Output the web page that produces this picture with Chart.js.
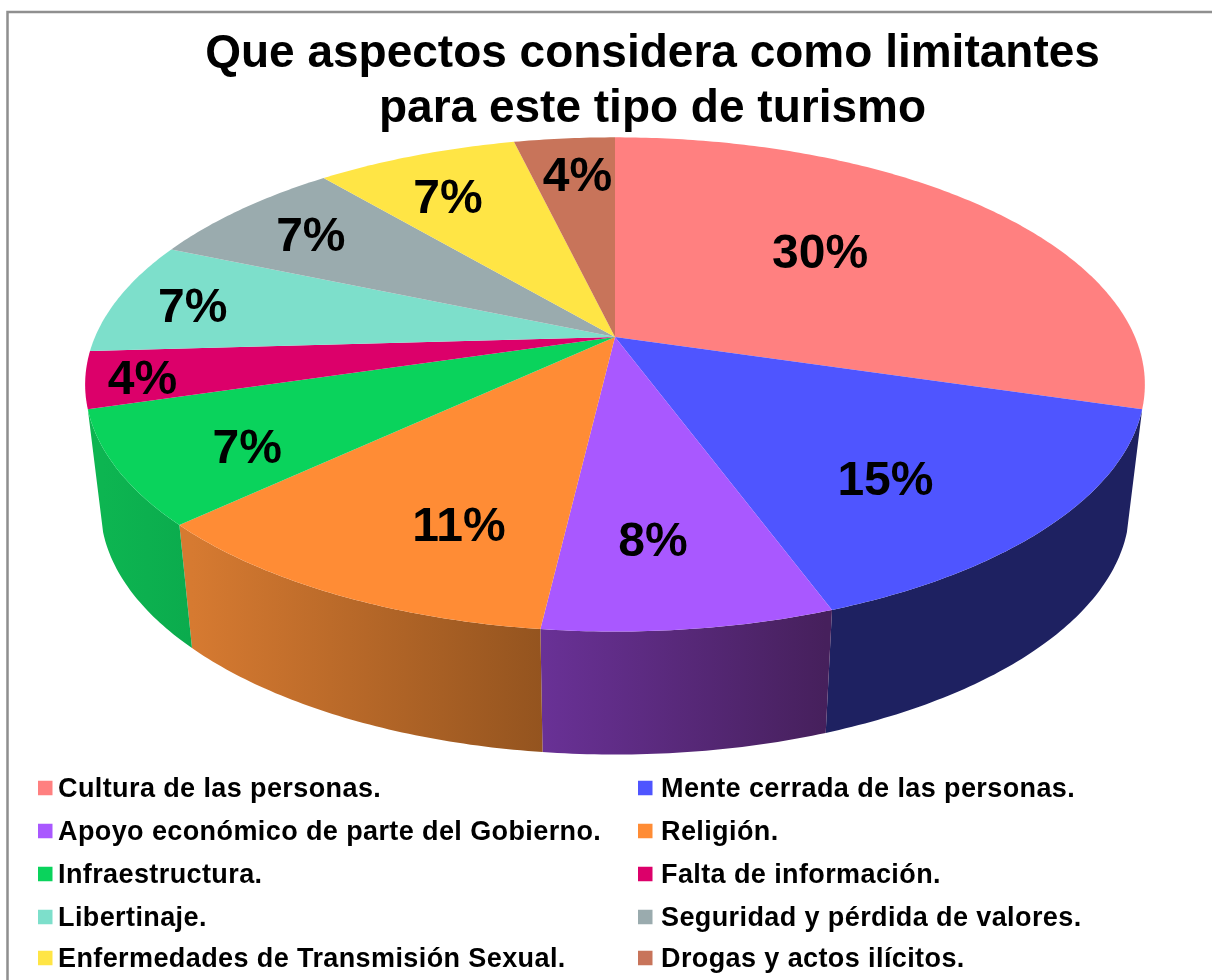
<!DOCTYPE html>
<html lang="es">
<head>
<meta charset="utf-8">
<title>Que aspectos considera como limitantes</title>
<script src="https://cdn.jsdelivr.net/npm/chart.js@4/dist/chart.umd.js"></script>
<style>
html,body{margin:0;padding:0;background:#fff}
canvas{display:block;filter:blur(0.4px)}
</style>
</head>
<body>
<canvas id="c" width="1212" height="980"></canvas>
<script>
const titleLines = ['Que aspectos considera como limitantes', 'para este tipo de turismo'];
const categories = ['Cultura de las personas.', 'Mente cerrada de las personas.', 'Apoyo económico de parte del Gobierno.', 'Religión.', 'Infraestructura.', 'Falta de información.', 'Libertinaje.', 'Seguridad y pérdida de valores.', 'Enfermedades de Transmisión Sexual.', 'Drogas y actos ilícitos.'];
const shares = [29.6, 14.8, 7.4, 11.1, 7.4, 3.7, 7.4, 7.4, 7.4, 3.7];
const percentLabels = ['30%', '15%', '8%', '11%', '7%', '4%', '7%', '7%', '7%', '4%'];
const topColors = ['#ff8080', '#4f55ff', '#a958ff', '#ff8c35', '#0ad35c', '#dc006a', '#7ddfcb', '#9aabae', '#ffe545', '#c8745a'];
const wallColors = [null, ['#1e2161', '#1e2161'], ['#693196', '#46205c'], ['#d67a31', '#94541f'], ['#0db551', '#0bab4d'], null, null, null, null, null];

// Perspective view of the pie disc
const view = {cx: 615, cy: 337, rx: 520, ry: 238, k: 0.192, depth: 123, bottomScale: 0.971};
function ringPoint(a, r, lower) {
  const u = r * Math.sin(a), v = -r * Math.cos(a), w = 1 - view.k * v;
  let x = view.rx * u / w, y = view.cy + view.ry * v / w;
  if (lower) { x *= view.bottomScale; y += view.depth; }
  return [view.cx + x, y];
}
function traceRing(ctx, a0, a1, lower, move) {
  const n = Math.max(2, Math.ceil(Math.abs(a1 - a0) / 0.012));
  for (let i = 0; i <= n; i++) {
    const p = ringPoint(a0 + (a1 - a0) * i / n, 1, lower);
    if (i === 0 && move) ctx.moveTo(p[0], p[1]); else ctx.lineTo(p[0], p[1]);
  }
}
const OFFSET = Math.PI / 2;

// Slices are Chart.js arc elements, painted through the perspective view
Chart.ArcElement.prototype.draw = function (ctx) {
  const a0 = this.startAngle + OFFSET, a1 = this.endAngle + OFFSET;
  ctx.save();
  ctx.beginPath();
  ctx.moveTo(view.cx, view.cy);
  traceRing(ctx, a0, a1, false, false);
  ctx.closePath();
  ctx.fillStyle = this.options.backgroundColor;
  ctx.fill();
  ctx.restore();
};

const labelNudges = [[-29,-2],[24,38],[-3,46],[0,49],[-81,37],[-159,18],[-121,-4],[-70,-19],[-40,-22],[-5,-32]];
const legendLayout = {cols: [38, 638], textX: [58, 661], rows: [788, 831, 874, 917, 958], box: 14.5, font: 'bold 27px "Liberation Sans", Arial, sans-serif', spacing: '0.4px'};

const pie3d = {
  id: 'pie3d',
  beforeDraw(chart) {
    const ctx = chart.ctx;
    ctx.save();
    ctx.fillStyle = '#fff';
    ctx.fillRect(0, 0, chart.width, chart.height);
    ctx.strokeStyle = '#8f8f8f';
    ctx.lineWidth = 2.5;
    ctx.beginPath();
    ctx.moveTo(7.5, chart.height);
    ctx.lineTo(7.5, 12);
    ctx.lineTo(chart.width, 12);
    ctx.stroke();
    ctx.restore();
  },
  beforeDatasetsDraw(chart) {
    const ctx = chart.ctx, arcs = chart.getDatasetMeta(0).data;
    arcs.forEach((arc, i) => {
      const c = wallColors[i];
      if (!c) return;
      const a0 = arc.startAngle + OFFSET, a1 = arc.endAngle + OFFSET;
      const pa = ringPoint(a0, 1, true), pb = ringPoint(a1, 1, true);
      const g = ctx.createLinearGradient(Math.min(pa[0], pb[0]), 0, Math.max(pa[0], pb[0]), 0);
      g.addColorStop(0, c[0]); g.addColorStop(1, c[1]);
      ctx.save();
      ctx.beginPath();
      traceRing(ctx, a0, a1, false, true);
      traceRing(ctx, a1, a0, true, false);
      ctx.closePath();
      ctx.fillStyle = g;
      ctx.fill();
      ctx.restore();
    });
  },
  afterDatasetsDraw(chart) {
    const ctx = chart.ctx, arcs = chart.getDatasetMeta(0).data;
    ctx.save();
    ctx.fillStyle = '#000';
    ctx.font = 'bold 48px "Liberation Sans", Arial, sans-serif';
    ctx.textAlign = 'center';
    ctx.textBaseline = 'middle';
    arcs.forEach((arc, i) => {
      const mid = (arc.startAngle + arc.endAngle) / 2 + OFFSET;
      const p = ringPoint(mid, 0.6, false);
      ctx.fillText(percentLabels[i], p[0] + labelNudges[i][0], p[1] + labelNudges[i][1]);
    });
    ctx.restore();
  },
  afterDraw(chart) {
    const ctx = chart.ctx, L = legendLayout;
    ctx.save();
    ctx.font = L.font;
    ctx.letterSpacing = L.spacing;
    ctx.textBaseline = 'middle';
    categories.forEach((name, i) => {
      const col = i % 2, y = L.rows[Math.floor(i / 2)];
      ctx.fillStyle = topColors[i];
      ctx.fillRect(L.cols[col], y - L.box / 2, L.box, L.box);
      ctx.fillStyle = '#000';
      ctx.fillText(name, L.textX[col], y + 2);
    });
    ctx.restore();
  }
};

new Chart(document.getElementById('c'), {
  type: 'pie',
  data: {labels: categories, datasets: [{data: shares, backgroundColor: topColors, borderWidth: 0}]},
  options: {
    responsive: false,
    animation: false,
    layout: {padding: {left: 93, bottom: 200}},
    plugins: {
      legend: {display: false},
      tooltip: {enabled: false},
      title: {
        display: true,
        text: titleLines,
        color: '#000',
        font: {family: '"Liberation Sans", Arial, sans-serif', size: 46, weight: 'bold', lineHeight: 1.2},
        padding: {top: 27, bottom: 4}
      }
    }
  },
  plugins: [pie3d]
});
</script>
</body>
</html>
